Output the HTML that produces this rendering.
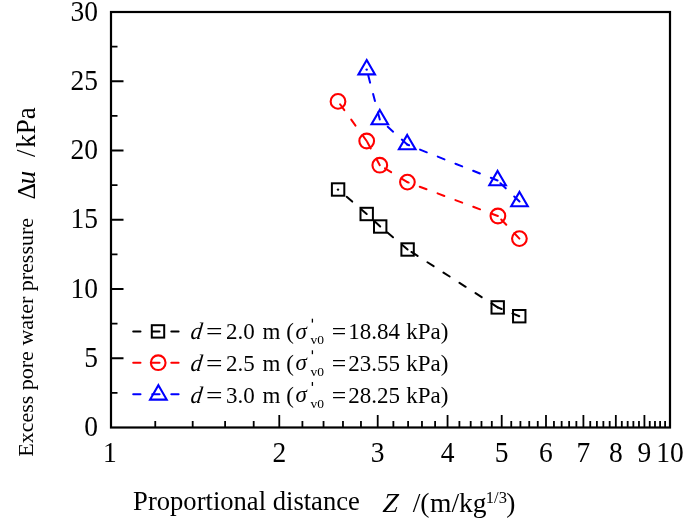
<!DOCTYPE html>
<html><head><meta charset="utf-8"><style>
html,body{margin:0;padding:0;background:#fff;width:685px;height:522px;overflow:hidden}
svg{display:block;will-change:transform;font-family:"Liberation Serif",serif}
text{fill:#000}
.t{font-size:27.5px}
.lg{font-size:23px}
</style></head><body>
<svg width="685" height="522" viewBox="0 0 685 522">
<path d="M111.00 358.25H123.50M111.00 289.00H123.50M111.00 219.75H123.50M111.00 150.50H123.50M111.00 81.25H123.50M111.00 392.88H117.50M111.00 323.62H117.50M111.00 254.38H117.50M111.00 185.12H117.50M111.00 115.88H117.50M111.00 46.62H117.50M279.28 427.50V415.00M377.71 427.50V415.00M447.55 427.50V415.00M501.72 427.50V415.00M545.99 427.50V415.00M583.41 427.50V415.00M615.83 427.50V415.00M644.42 427.50V415.00M155.26 427.50V421.00M192.69 427.50V421.00M225.10 427.50V421.00M253.70 427.50V421.00M302.41 427.50V421.00M323.54 427.50V421.00M342.97 427.50V421.00M360.96 427.50V421.00M393.38 427.50V421.00M408.10 427.50V421.00M421.97 427.50V421.00M435.10 427.50V421.00M459.40 427.50V421.00M470.69 427.50V421.00M481.48 427.50V421.00M491.81 427.50V421.00M511.25 427.50V421.00M520.41 427.50V421.00M529.24 427.50V421.00M537.76 427.50V421.00M553.95 427.50V421.00M561.65 427.50V421.00M569.13 427.50V421.00M576.37 427.50V421.00M590.25 427.50V421.00M596.90 427.50V421.00M603.37 427.50V421.00M609.68 427.50V421.00M621.82 427.50V421.00M627.67 427.50V421.00M633.38 427.50V421.00M638.97 427.50V421.00M649.76 427.50V421.00M654.98 427.50V421.00M660.09 427.50V421.00M665.10 427.50V421.00" stroke="#000" stroke-width="1.8" fill="none"/>
<rect x="111.0" y="12.0" width="559.0" height="415.5" fill="none" stroke="#000" stroke-width="2.2"/>
<text transform="translate(98 436.10) scale(1 1.07)" text-anchor="end" class="t">0</text>
<text transform="translate(98 366.85) scale(1 1.07)" text-anchor="end" class="t">5</text>
<text transform="translate(98 297.60) scale(1 1.07)" text-anchor="end" class="t">10</text>
<text transform="translate(98 228.35) scale(1 1.07)" text-anchor="end" class="t">15</text>
<text transform="translate(98 159.10) scale(1 1.07)" text-anchor="end" class="t">20</text>
<text transform="translate(98 89.85) scale(1 1.07)" text-anchor="end" class="t">25</text>
<text transform="translate(98 20.60) scale(1 1.07)" text-anchor="end" class="t">30</text>
<text transform="translate(109.80 461.8) scale(1 1.07)" text-anchor="middle" class="t">1</text>
<text transform="translate(279.28 461.8) scale(1 1.07)" text-anchor="middle" class="t">2</text>
<text transform="translate(377.71 461.8) scale(1 1.07)" text-anchor="middle" class="t">3</text>
<text transform="translate(447.55 461.8) scale(1 1.07)" text-anchor="middle" class="t">4</text>
<text transform="translate(501.72 461.8) scale(1 1.07)" text-anchor="middle" class="t">5</text>
<text transform="translate(545.99 461.8) scale(1 1.07)" text-anchor="middle" class="t">6</text>
<text transform="translate(583.41 461.8) scale(1 1.07)" text-anchor="middle" class="t">7</text>
<text transform="translate(615.83 461.8) scale(1 1.07)" text-anchor="middle" class="t">8</text>
<text transform="translate(644.42 461.8) scale(1 1.07)" text-anchor="middle" class="t">9</text>
<text transform="translate(670.00 461.8) scale(1 1.07)" text-anchor="middle" class="t">10</text>
<path d="M366.7 214L338.1 189.5" fill="none" stroke="#000" stroke-width="2" stroke-dasharray="7.3 11.75" stroke-linecap="round"/><path d="M380.2 226.5L366.7 214" fill="none" stroke="#000" stroke-width="2" stroke-dasharray="7.3 11.75" stroke-linecap="round"/><path d="M407.6 249.5L380.2 226.5" fill="none" stroke="#000" stroke-width="2" stroke-dasharray="7.3 11.75" stroke-linecap="round"/><path d="M497.7 307.4L407.6 249.5" fill="none" stroke="#000" stroke-width="2" stroke-dasharray="7.3 11.75" stroke-linecap="round"/><path d="M519.25 316.2L497.7 307.4" fill="none" stroke="#000" stroke-width="2" stroke-dasharray="7.3 11.75" stroke-linecap="round"/>
<path d="M366.7 141L338 101.4" fill="none" stroke="#f00" stroke-width="2" stroke-dasharray="7.3 11.75" stroke-linecap="round"/><path d="M379.8 165.2L366.7 141" fill="none" stroke="#f00" stroke-width="2" stroke-dasharray="7.3 11.75" stroke-linecap="round"/><path d="M407.4 182.1L379.8 165.2" fill="none" stroke="#f00" stroke-width="2" stroke-dasharray="7.3 11.75" stroke-linecap="round"/><path d="M497.9 216L407.4 182.1" fill="none" stroke="#f00" stroke-width="2" stroke-dasharray="7.3 11.75" stroke-linecap="round"/><path d="M519.4 238.6L497.9 216" fill="none" stroke="#f00" stroke-width="2" stroke-dasharray="7.3 11.75" stroke-linecap="round"/>
<path d="M379.8 119.5L366.7 69.6" fill="none" stroke="#00f" stroke-width="2" stroke-dasharray="7.3 11.75" stroke-linecap="round"/><path d="M407.2 144.5L379.8 119.5" fill="none" stroke="#00f" stroke-width="2" stroke-dasharray="7.3 11.75" stroke-linecap="round"/><path d="M497.6 180.5L407.2 144.5" fill="none" stroke="#00f" stroke-width="2" stroke-dasharray="7.3 11.75" stroke-linecap="round"/><path d="M519.5 201.5L497.6 180.5" fill="none" stroke="#00f" stroke-width="2" stroke-dasharray="7.3 11.75" stroke-linecap="round"/>
<rect x="331.90" y="183.30" width="12.4" height="12.4" fill="none" stroke="#000" stroke-width="2"/>
<rect x="360.50" y="207.80" width="12.4" height="12.4" fill="none" stroke="#000" stroke-width="2"/>
<rect x="374.00" y="220.30" width="12.4" height="12.4" fill="none" stroke="#000" stroke-width="2"/>
<rect x="401.40" y="243.30" width="12.4" height="12.4" fill="none" stroke="#000" stroke-width="2"/>
<rect x="491.50" y="301.20" width="12.4" height="12.4" fill="none" stroke="#000" stroke-width="2"/>
<rect x="513.05" y="310.00" width="12.4" height="12.4" fill="none" stroke="#000" stroke-width="2"/>
<circle cx="338" cy="101.4" r="7.35" fill="none" stroke="#f00" stroke-width="2.1"/>
<circle cx="366.7" cy="141" r="7.35" fill="none" stroke="#f00" stroke-width="2.1"/>
<circle cx="379.8" cy="165.2" r="7.35" fill="none" stroke="#f00" stroke-width="2.1"/>
<circle cx="407.4" cy="182.1" r="7.35" fill="none" stroke="#f00" stroke-width="2.1"/>
<circle cx="497.9" cy="216" r="7.35" fill="none" stroke="#f00" stroke-width="2.1"/>
<circle cx="519.4" cy="238.6" r="7.35" fill="none" stroke="#f00" stroke-width="2.1"/>
<path d="M366.70 60.00L375.00 74.40L358.40 74.40Z" fill="none" stroke="#00f" stroke-width="2.1" stroke-miterlimit="10"/>
<path d="M379.80 109.90L388.10 124.30L371.50 124.30Z" fill="none" stroke="#00f" stroke-width="2.1" stroke-miterlimit="10"/>
<path d="M407.20 134.90L415.50 149.30L398.90 149.30Z" fill="none" stroke="#00f" stroke-width="2.1" stroke-miterlimit="10"/>
<path d="M497.60 170.90L505.90 185.30L489.30 185.30Z" fill="none" stroke="#00f" stroke-width="2.1" stroke-miterlimit="10"/>
<path d="M519.50 191.90L527.80 206.30L511.20 206.30Z" fill="none" stroke="#00f" stroke-width="2.1" stroke-miterlimit="10"/>
<circle cx="338.0" cy="189.6" r="1.2" fill="#000"/><circle cx="366.7" cy="69.6" r="1.2" fill="#00f"/>
<path d="M178.6 331.4H132.5" stroke="#000" stroke-width="2" fill="none" stroke-dasharray="7.3 11.75" stroke-linecap="round"/>
<rect x="151.80" y="325.20" width="12.4" height="12.4" fill="none" stroke="#000" stroke-width="2"/>
<g class="lg" transform="translate(0 339.4) scale(1 1.04)"><text transform="translate(190 0) skewX(-7)" font-style="italic">d</text><text x="205.9" textLength="16.5" lengthAdjust="spacingAndGlyphs">=</text><text x="226">2.0</text><text x="262.4">m</text><text x="286.2">(</text><text x="295.5" y="-0.8" font-style="italic">σ</text><text x="331.8" textLength="14.5" lengthAdjust="spacingAndGlyphs">=</text><text x="348.3">18.84</text><text x="406.3">kPa)</text></g><path d="M312.4 318.7V322.6" stroke="#000" stroke-width="1.3"/><text x="310.6" y="344.2" font-size="13.5">v0</text>
<path d="M178.6 362.7H132.5" stroke="#f00" stroke-width="2" fill="none" stroke-dasharray="7.3 11.75" stroke-linecap="round"/>
<circle cx="158.2" cy="362.7" r="7.35" fill="none" stroke="#f00" stroke-width="2.1"/>
<g class="lg" transform="translate(0 371.0) scale(1 1.04)"><text transform="translate(190 0) skewX(-7)" font-style="italic">d</text><text x="205.9" textLength="16.5" lengthAdjust="spacingAndGlyphs">=</text><text x="226">2.5</text><text x="262.4">m</text><text x="286.2">(</text><text x="295.5" y="-0.8" font-style="italic">σ</text><text x="331.8" textLength="14.5" lengthAdjust="spacingAndGlyphs">=</text><text x="348.3">23.55</text><text x="406.3">kPa)</text></g><path d="M312.4 350.3V354.2" stroke="#000" stroke-width="1.3"/><text x="310.6" y="375.8" font-size="13.5">v0</text>
<path d="M178.6 394.2H132.5" stroke="#00f" stroke-width="2" fill="none" stroke-dasharray="7.3 11.75" stroke-linecap="round"/>
<path d="M158.40 385.20L166.70 399.60L150.10 399.60Z" fill="none" stroke="#00f" stroke-width="2.1" stroke-miterlimit="10"/>
<g class="lg" transform="translate(0 402.7) scale(1 1.04)"><text transform="translate(190 0) skewX(-7)" font-style="italic">d</text><text x="205.9" textLength="16.5" lengthAdjust="spacingAndGlyphs">=</text><text x="226">3.0</text><text x="262.4">m</text><text x="286.2">(</text><text x="295.5" y="-0.8" font-style="italic">σ</text><text x="331.8" textLength="14.5" lengthAdjust="spacingAndGlyphs">=</text><text x="348.3">28.25</text><text x="406.3">kPa)</text></g><path d="M312.4 382.0V385.9" stroke="#000" stroke-width="1.3"/><text x="310.6" y="407.5" font-size="13.5">v0</text>
<text transform="translate(133.1 509.8) scale(1 1.05)" font-size="26.6">Proportional distance</text>
<g font-size="27.5" transform="translate(0 512.2)"><text transform="translate(382.2 0) skewX(-5)" font-style="italic">Z</text><text x="412.7">/</text><text x="420.2">(</text><text x="430">m/kg</text><text x="485.8" y="-9.2" font-size="16.5">1/3</text><text x="506.2">)</text></g>
<text transform="translate(33.2 456.8) rotate(-90)" font-size="22">Excess pore water pressure</text>
<g font-size="26" transform="translate(34.8 0) rotate(-90)"><text x="-199.6">Δ</text><text x="-184.3" font-style="italic" font-size="27">u</text><text x="-157" font-size="27">/</text><text x="-147.7" font-size="27">kPa</text></g>
</svg>
</body></html>
